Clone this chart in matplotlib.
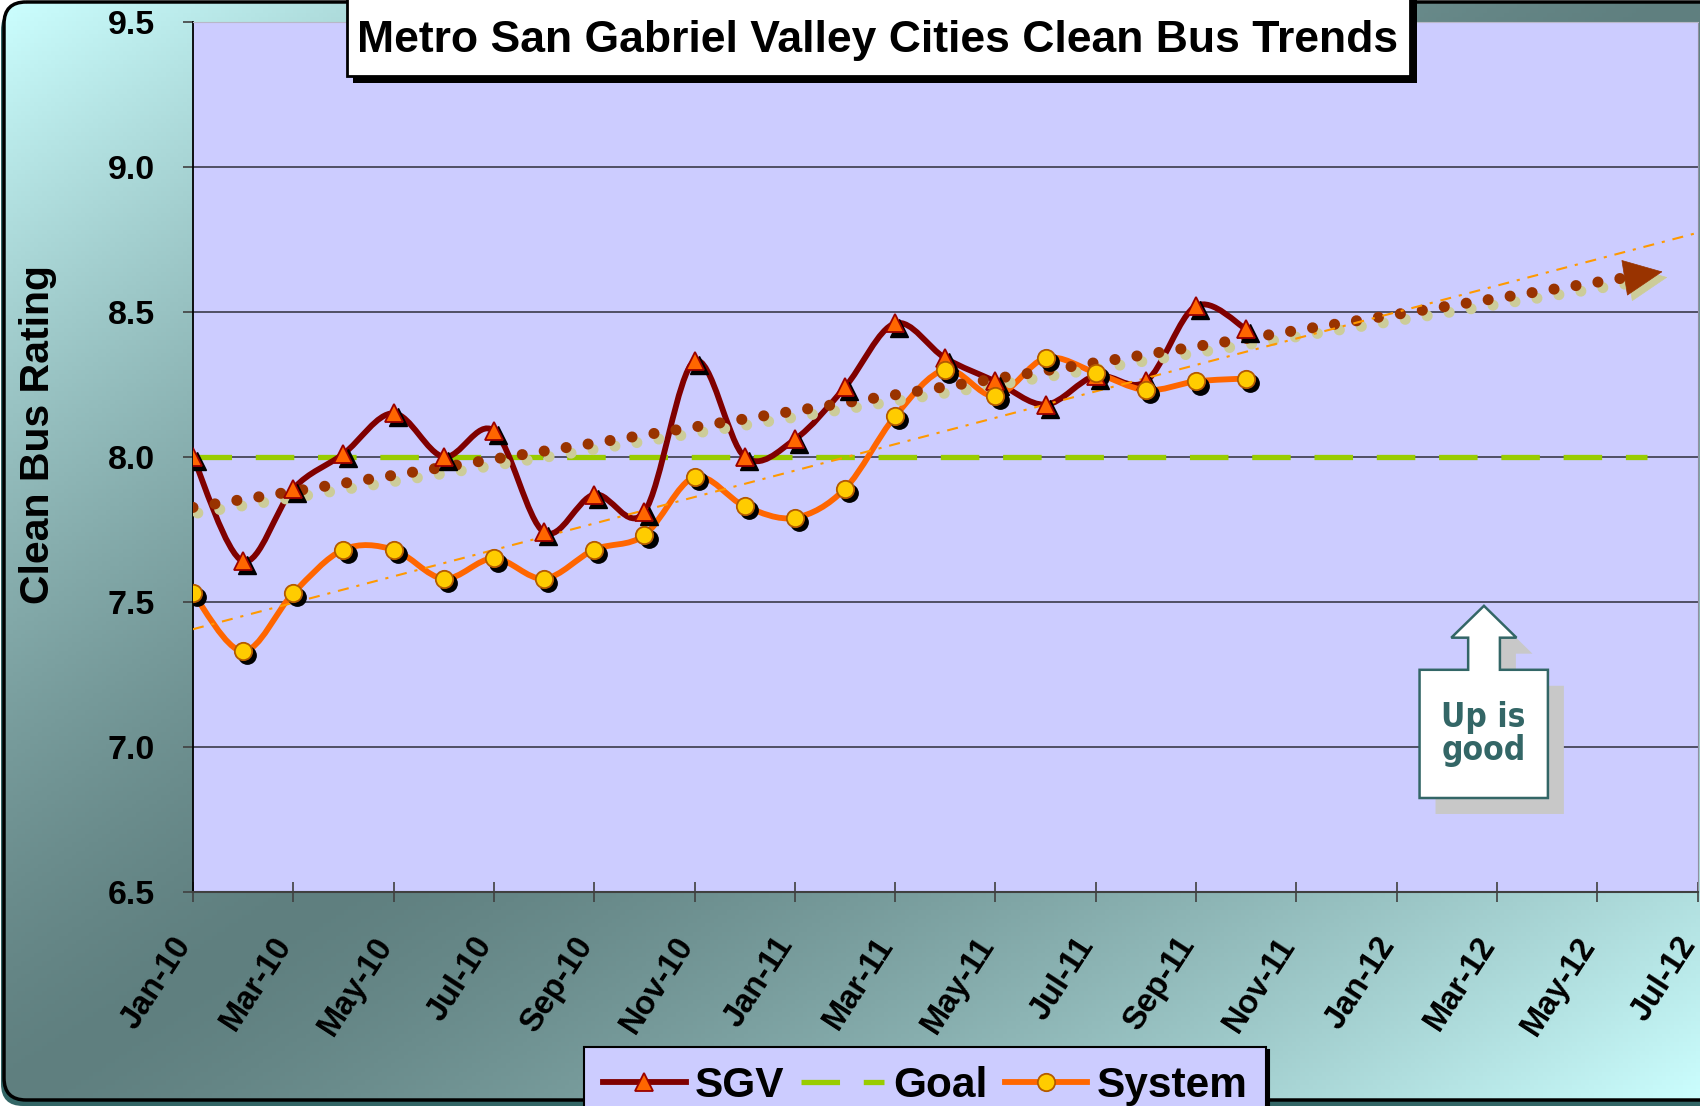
import numpy as np
import pandas as pd
import matplotlib
matplotlib.use('Agg')
import matplotlib.pyplot as plt
from matplotlib.path import Path
from matplotlib.patches import PathPatch, Polygon, Rectangle, FancyBboxPatch
from matplotlib.lines import Line2D
from matplotlib.transforms import offset_copy, ScaledTranslation

plt.rcParams['font.family'] = ['Liberation Sans', 'DejaVu Sans']
plt.rcParams['font.weight'] = 'bold'

# month axis Jan-10 .. Jul-12
months = pd.date_range('2010-01-01', '2012-07-01', freq='MS').strftime('%b-%y').tolist()

# clean bus rating, Jan-10 .. Oct-11
sgv = [8.00, 7.64, 7.89, 8.01, 8.15, 8.00, 8.09, 7.74, 7.87, 7.81, 8.33,
       8.00, 8.06, 8.24, 8.46, 8.34, 8.26, 8.18, 8.28, 8.26, 8.52, 8.44]
system = [7.53, 7.33, 7.53, 7.68, 7.68, 7.58, 7.65, 7.58, 7.68, 7.73, 7.93,
          7.83, 7.79, 7.89, 8.14, 8.30, 8.21, 8.34, 8.29, 8.23, 8.26, 8.27]
goal_months = ['Jan-10', 'Jun-12']
goal = [8.0, 8.0]

y_ticks = [6.5, 7.0, 7.5, 8.0, 8.5, 9.0, 9.5]
x_ticks = list(range(0, len(months), 2))


def smooth_path(xs, ys):
    # excel style smoothed line (catmull-rom -> bezier)
    pts = np.column_stack([xs, ys]).astype(float)
    p = np.vstack([pts[0], pts, pts[-1]])
    verts = [pts[0]]
    codes = [Path.MOVETO]
    for i in range(1, len(p) - 2):
        c1 = p[i] + (p[i + 1] - p[i - 1]) / 6
        c2 = p[i + 1] - (p[i + 2] - p[i]) / 6
        verts += [c1, c2, p[i + 1]]
        codes += [Path.CURVE4] * 3
    return Path(verts, codes)


W, H = 1700, 1106
fig = plt.figure(figsize=(17, 11.06), dpi=100)

# gradient background inside rounded frame
bg = fig.add_axes([0, 0, 1, 1], zorder=-10)
bg.set_axis_off()
u, v = np.meshgrid(np.linspace(0, 1, 400), np.linspace(0, 1, 260))
t = np.abs(u + v - 1) ** 1.35
dark = np.array([0x5f, 0x7f, 0x7f]) / 255
light = np.array([0xcc, 0xff, 0xff]) / 255
img = dark + (light - dark) * t[..., None]
shadow_frame = FancyBboxPatch((1, 8), W + 40, H - 8, boxstyle='round,pad=0,rounding_size=22',
                              fc='#336666', ec='none')
bg.add_patch(shadow_frame)
frame = FancyBboxPatch((4, 2), W + 40, H - 8, boxstyle='round,pad=0,rounding_size=22',
                       fc='none', ec='black', lw=2.5, zorder=3)
bg.add_patch(frame)
im = bg.imshow(img, extent=(0, W, H, 0), aspect='auto', zorder=2)
im.set_clip_path(frame)
bg.set_xlim(0, W)
bg.set_ylim(H, 0)

ax = fig.add_axes([0.1135, 0.1935, 0.8851, 0.7869])
ax.set_facecolor('#CCCCFF')
ax.set_xlim(0, len(months) - 1)
ax.set_ylim(y_ticks[0], y_ticks[-1])
ax.set_axisbelow(True)

x = np.arange(len(sgv))
sh = offset_copy(ax.transData, fig=fig, x=3, y=-3, units='points')

# goal
gx = [months.index(m) for m in goal_months]
ax.plot(gx, goal, color='#99CC00', lw=3.8, ls=(0, (7.3, 4.5)), zorder=2)

# series lines
ax.add_patch(PathPatch(smooth_path(x, sgv), fill=False, ec='#800000', lw=4.2,
                       capstyle='round', joinstyle='round', zorder=3))
ax.add_patch(PathPatch(smooth_path(x, system), fill=False, ec='#FF6600', lw=4.2,
                       capstyle='round', joinstyle='round', zorder=3))

# trendlines
sgv_fit = np.polyfit(x, sgv, 1)
sys_fit = np.polyfit(x, system, 1)
tx = np.array([0, 28.5])
ax.plot(tx, np.polyval(sgv_fit, tx), color='#CCCC99', lw=8, ls=(0, (0.001, 2.0)),
        dash_capstyle='round', transform=offset_copy(ax.transData, fig=fig, x=3.5, y=-4, units='points'), zorder=4)
ax.plot(tx, np.polyval(sgv_fit, tx), color='#993300', lw=8, ls=(0, (0.001, 2.0)),
        dash_capstyle='round', zorder=4)
a0, a1 = 28.5, 29.3
ashadow = offset_copy(ax.transData, fig=fig, x=3.5, y=-4, units='points')
for col, tr in [('#CCCC99', ashadow), ('#993300', ax.transData)]:
    ax.annotate('', xy=(a1, np.polyval(sgv_fit, a1)), xytext=(a0, np.polyval(sgv_fit, a0)),
                xycoords=tr, textcoords=tr,
                arrowprops=dict(arrowstyle='-|>,head_length=0.9,head_width=0.42', mutation_scale=30,
                                color=col, lw=0.5, shrinkA=0, shrinkB=0), zorder=4)
sx = np.array([0, len(months) - 1])
ax.plot(sx, np.polyval(sys_fit, sx), color='#FF9900', lw=1.5, ls=(0, (5.3, 3.8, 1.5, 3.8)), zorder=4)

# markers with drop shadow
ax.plot(x, sgv, ls='none', marker='^', ms=13.5, color='black', transform=sh, zorder=5)
ax.plot(x, sgv, ls='none', marker='^', ms=13.5, mfc='#FF6600', mec='#990000', mew=1.3, zorder=6)
ax.plot(x, system, ls='none', marker='o', ms=12.5, color='black', transform=sh, zorder=5)
ax.plot(x, system, ls='none', marker='o', ms=12.5, mfc='#FFCC00', mec='#B35900', mew=1.3, zorder=6)

# axes styling
ax.set_yticks(y_ticks)
ax.set_yticklabels(['{:.1f}'.format(y) for y in y_ticks])
ax.set_xticks(x_ticks)
ax.set_xticklabels([months[i] for i in x_ticks], rotation=57, ha='right', va='center',
                   rotation_mode='anchor')
ax.tick_params(axis='x', direction='inout', length=15, width=1.2, color='#404040', pad=27, labelsize=23.5)
ax.tick_params(axis='y', direction='out', length=7.5, width=1.2, color='#404040', pad=20, labelsize=24.5)
for lab in ax.get_xticklabels():
    lab.set_transform(lab.get_transform() + ScaledTranslation(-0.08, 0, fig.dpi_scale_trans))
ax.grid(axis='y', color='#3a3a4a', lw=1.2)
ax.get_ygridlines()[-1].set_visible(False)
ax.spines['top'].set_color('#B8B8C8')
ax.spines['right'].set_color('#9090A0')
ax.spines['left'].set_color('black')
ax.spines['left'].set_linewidth(1.3)
ax.spines['bottom'].set_color('#404040')
ax.spines['bottom'].set_linewidth(1.5)
ax.set_ylabel('Clean Bus Rating', fontsize=29.5, fontweight='bold')
ax.yaxis.set_label_coords(-0.0905, 0.526)

# "Up is good" callout
callout = [(0.8580, 0.3288), (0.8796, 0.2922), (0.8686, 0.2922), (0.8686, 0.2553),
           (0.9005, 0.2553), (0.9005, 0.1080), (0.8152, 0.1080), (0.8152, 0.2553),
           (0.8475, 0.2553), (0.8475, 0.2922), (0.8363, 0.2922)]
ax.add_patch(Polygon(callout, closed=True, transform=offset_copy(ax.transAxes, fig=fig, x=11.5, y=-11.5, units='points'),
                     fc='#C8C8C8', ec='none', zorder=7))
ax.add_patch(Polygon(callout, closed=True, transform=ax.transAxes, fc='white', ec='#336666', lw=1.8, zorder=8))
ax.text(0.8578, 0.181, 'Up is\ngood', transform=ax.transAxes, ha='center', va='center', fontsize=24,
        fontweight='bold', fontstretch='condensed', color='#336666', family='DejaVu Sans',
        linespacing=1.0, zorder=9)

# title box
fig.add_artist(Rectangle((353 / W, 1 - 83 / H), 1064 / W, 0.2, transform=fig.transFigure,
                         fc='black', ec='none', zorder=5))
fig.add_artist(Rectangle((347 / W, 1 - 76 / H), 1063 / W, 0.2, transform=fig.transFigure,
                         fc='white', ec='black', lw=2, zorder=6))
fig.text(878 / W, 1 - 52 / H, 'Metro San Gabriel Valley Cities Clean Bus Trends', ha='center',
         va='baseline', fontsize=32, fontweight='bold', zorder=7)

# legend
handles = [
    Line2D([], [], color='#800000', lw=4.2, marker='^', ms=13.5, mfc='#FF6600', mec='#990000', mew=1.3),
    Line2D([], [], color='#99CC00', lw=3.8, ls=(0, (7.3, 4.5))),
    Line2D([], [], color='#FF6600', lw=4.2, marker='o', ms=12.5, mfc='#FFCC00', mec='#B35900', mew=1.3),
]
leg = fig.legend(handles, ['SGV', 'Goal', 'System'], loc='upper left', bbox_to_anchor=(0.3435, 0.0533),
                 ncol=3, fancybox=False, shadow={'color': 'black', 'alpha': 1},
                 prop=dict(size=30.5, weight='bold'), handlelength=1.95, handletextpad=0.22,
                 columnspacing=0.4, borderpad=0.45, borderaxespad=0, facecolor='#CCCCFF',
                 edgecolor='black', framealpha=1, numpoints=1)
leg.get_frame().set_linewidth(1.5)

fig.savefig('out.png', dpi=100)
